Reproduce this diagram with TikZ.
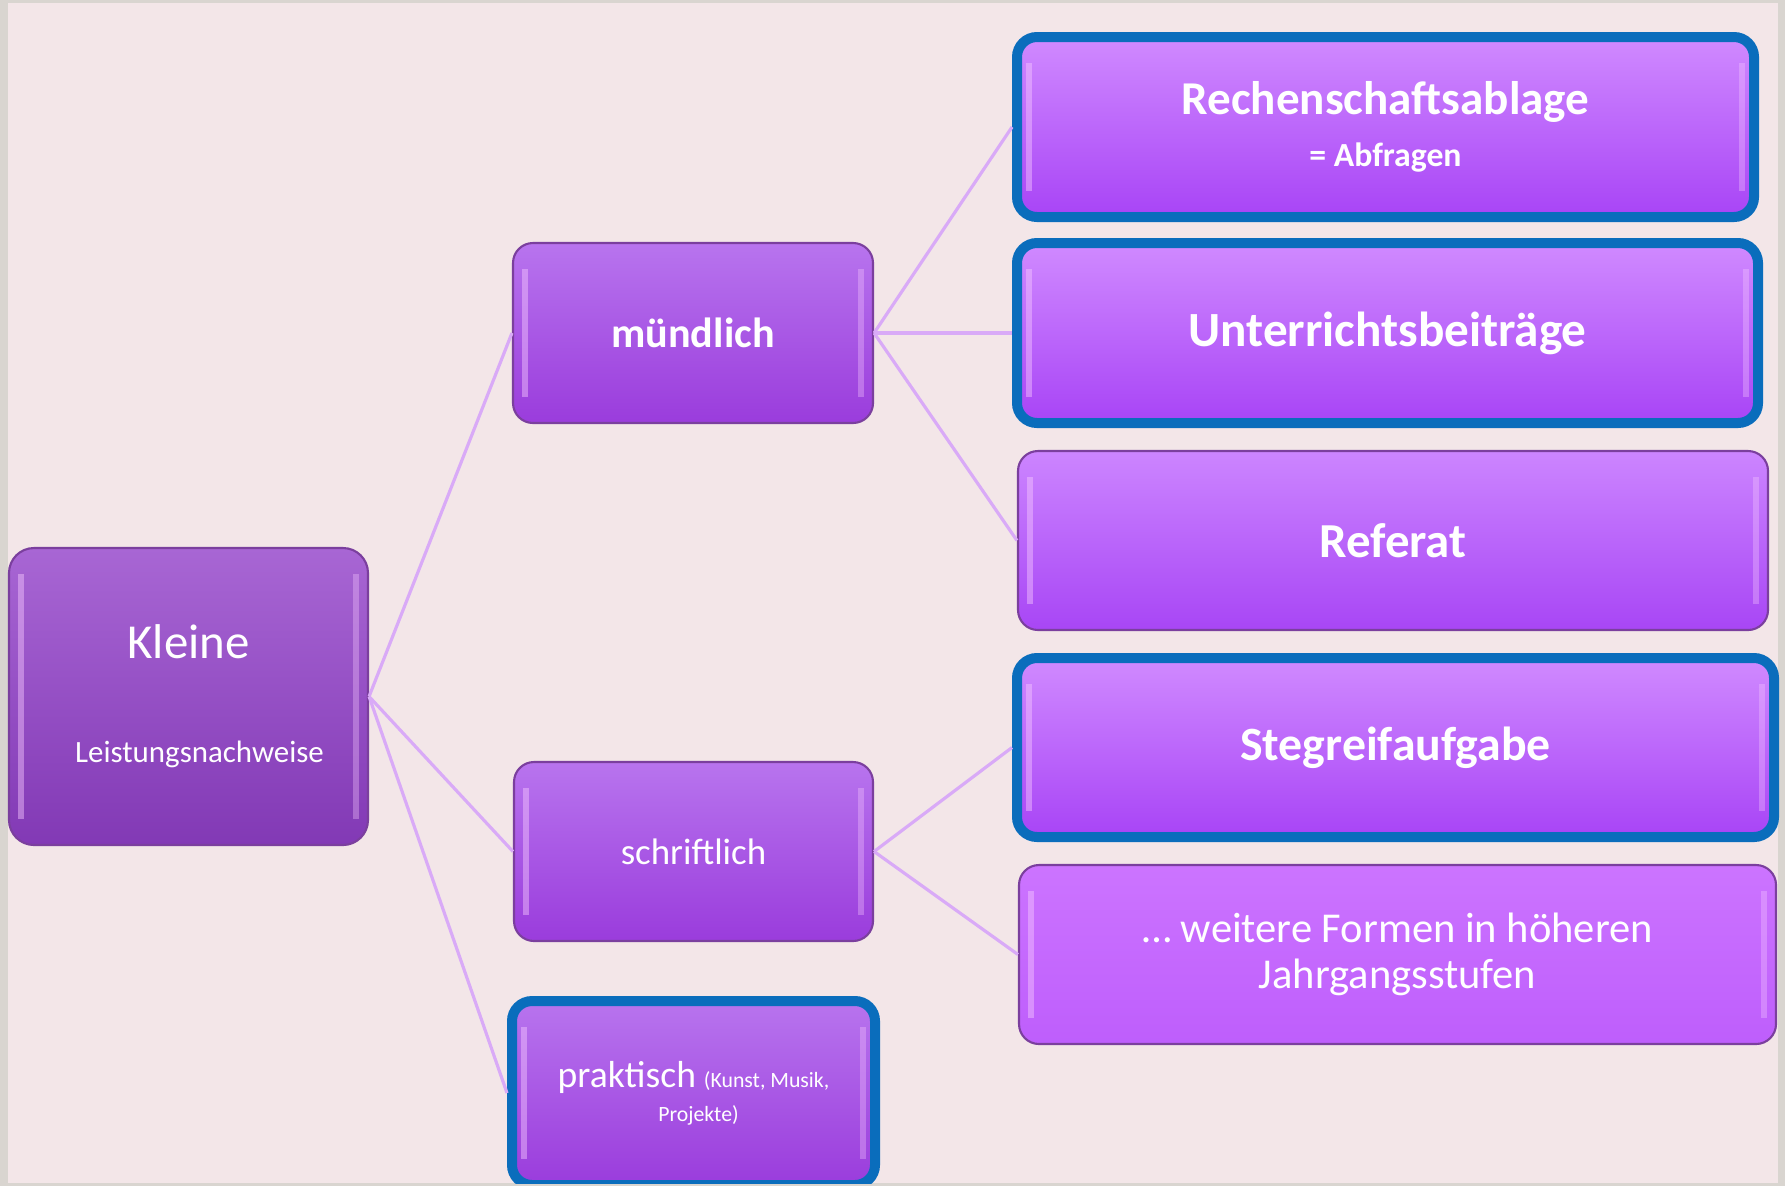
\documentclass[tikz,border=0pt]{standalone}
\usepackage{fontspec}
\setmainfont{Carlito}
\definecolor{bg}{HTML}{F3E6E8}
\definecolor{frame}{HTML}{D9D5D0}
\definecolor{linkc}{HTML}{D9AAF7}
\definecolor{edge}{HTML}{7B3F9E}
\definecolor{rim}{HTML}{0A6DBC}
\definecolor{gloss}{HTML}{F6C8FF}
\tikzset{
  box/.style={rounded corners=0.2cm, draw=edge, line width=0.6pt, text=white,
    align=center, inner sep=0pt, top color=#1!60!white, bottom color=#1},
  box/.default={purple},
  rimbox/.style={box, draw=rim, line width=0.1cm},
  link/.style={draw=linkc, line width=0.9pt},
  shine/.style={path picture={
      \fill[gloss,opacity=.45,sharp corners] ([xshift=0.09cm,yshift=-0.26cm]path picture bounding box.north west)
        rectangle ([xshift=0.15cm,yshift=0.26cm]path picture bounding box.south west);
      \fill[gloss,opacity=.35,sharp corners] ([xshift=-0.15cm,yshift=-0.26cm]path picture bounding box.north east)
        rectangle ([xshift=-0.09cm,yshift=0.26cm]path picture bounding box.south east);}}
}
\begin{document}
\begin{tikzpicture}
  \useasboundingbox (0,0) rectangle (17.85,-11.86);
  \fill[frame] (0,0) rectangle (17.85,-11.86);
  \fill[bg] (0.08,-0.03) rectangle (17.78,-11.83);
  \begin{scope}
  \clip (0,0) rectangle (17.85,-11.83);
  % linke Spalte
  \node[box, shine, top color={rgb,255:red,168;green,102;blue,212}, bottom color={rgb,255:red,130;green,57;blue,181},
    rounded corners=0.25cm, minimum width=3.59cm, minimum height=2.97cm] (kl) at (1.885,-6.965)
    {{\fontsize{13.9pt}{17pt}\selectfont Kleine}\\[0.62cm]\hspace*{0.22cm}{\fontsize{8.8pt}{11pt}\selectfont Leistungsnachweise}};
  % mittlere Spalte
  \node[box, shine, top color={rgb,255:red,184;green,116;blue,238}, bottom color={rgb,255:red,154;green,60;blue,220},
    minimum width=3.6cm, minimum height=1.8cm, font=\fontsize{12pt}{14pt}\selectfont\bfseries] (mue) at (6.93,-3.33)
    {mündlich};
  \node[box, shine, top color={rgb,255:red,184;green,116;blue,238}, bottom color={rgb,255:red,154;green,60;blue,220},
    minimum width=3.59cm, minimum height=1.79cm, font=\fontsize{10.5pt}{13pt}\selectfont] (schr) at (6.935,-8.515)
    {schriftlich};
  \node[rimbox, shine, top color={rgb,255:red,184;green,116;blue,238}, bottom color={rgb,255:red,154;green,60;blue,220},
    minimum width=3.63cm, minimum height=1.84cm] (prak) at (6.935,-10.93)
    {{\fontsize{10.7pt}{12pt}\selectfont praktisch} {\fontsize{6.2pt}{7pt}\selectfont (Kunst, Musik,}\\[-0.08cm]
     \hspace*{0.1cm}{\fontsize{6.2pt}{7pt}\selectfont Projekte)}};
  % rechte Spalte
  \node[rimbox, shine, top color={rgb,255:red,208;green,138;blue,255}, bottom color={rgb,255:red,168;green,68;blue,246},
    minimum width=7.37cm, minimum height=1.8cm] (rech) at (13.855,-1.27)
    {{\fontsize{13.4pt}{16pt}\selectfont\bfseries Rechenschaftsablage}\\[0.1cm]{\fontsize{9.6pt}{12pt}\selectfont\bfseries = Abfragen}};
  \node[rimbox, shine, top color={rgb,255:red,208;green,138;blue,255}, bottom color={rgb,255:red,168;green,68;blue,246},
    minimum width=7.41cm, minimum height=1.8cm, font=\fontsize{14pt}{17pt}\selectfont\bfseries] (unt) at (13.875,-3.33)
    {Unterrichtsbeiträge};
  \node[box, shine, top color={rgb,255:red,204;green,133;blue,255}, bottom color={rgb,255:red,168;green,70;blue,245},
    minimum width=7.5cm, minimum height=1.79cm, font=\fontsize{13.9pt}{17pt}\selectfont\bfseries] (ref) at (13.93,-5.405)
    {Referat};
  \node[rimbox, shine, top color={rgb,255:red,208;green,138;blue,255}, bottom color={rgb,255:red,168;green,68;blue,246},
    minimum width=7.57cm, minimum height=1.79cm, font=\fontsize{13.6pt}{17pt}\selectfont\bfseries] (steg) at (13.955,-7.475)
    {Stegreifaufgabe};
  \node[box, shine, top color={rgb,255:red,204;green,116;blue,255}, bottom color={rgb,255:red,190;green,94;blue,252},
    minimum width=7.57cm, minimum height=1.79cm, font=\fontsize{12.1pt}{13pt}\selectfont] (weit) at (13.975,-9.545)
    {\dots\ weitere Formen in höheren\\ Jahrgangsstufen};
  % Verbindungen
  \draw[link] (kl.east) -- (mue.west);
  \draw[link] (kl.east) -- (schr.west);
  \draw[link] (kl.east) -- (prak.west);
  \draw[link] (mue.east) -- (rech.west);
  \draw[link] (mue.east) -- (unt.west);
  \draw[link] (mue.east) -- (ref.west);
  \draw[link] (schr.east) -- (steg.west);
  \draw[link] (schr.east) -- (weit.west);
  \end{scope}
\end{tikzpicture}
\end{document}
